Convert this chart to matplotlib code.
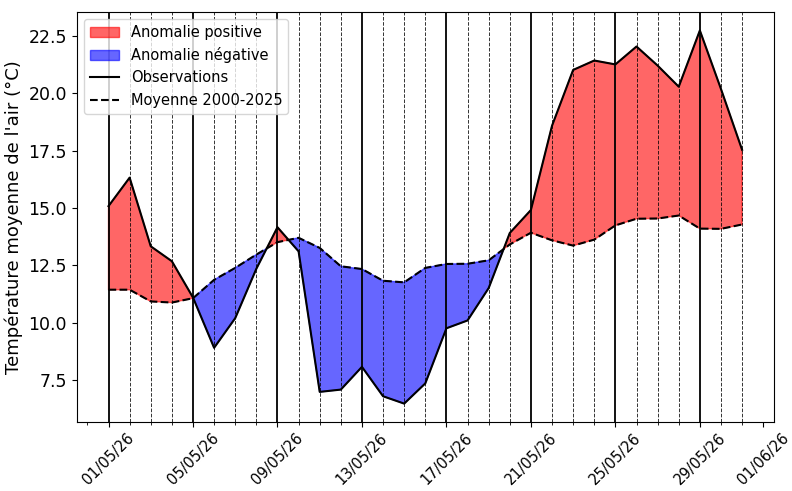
import numpy as np
import pandas as pd
import matplotlib
matplotlib.use("Agg")
import matplotlib.pyplot as plt
import matplotlib.dates as mdates
from matplotlib.ticker import MultipleLocator

dates = pd.date_range("2026-05-01", "2026-05-31", freq="D")

observations = [15.08, 16.32, 13.33, 12.68, 11.10, 8.91, 10.20, 12.35, 14.16, 13.11,
                6.99, 7.09, 8.08, 6.80, 6.48, 7.36, 9.76, 10.10, 11.51, 13.91,
                14.91, 18.58, 21.01, 21.42, 21.25, 22.03, 21.20, 20.28, 22.73, 20.18,
                17.53]

moyenne = [11.44, 11.44, 10.93, 10.88, 11.07, 11.87, 12.39, 12.97, 13.51, 13.70,
           13.26, 12.46, 12.34, 11.83, 11.76, 12.39, 12.56, 12.57, 12.72, 13.41,
           13.92, 13.59, 13.36, 13.62, 14.24, 14.53, 14.54, 14.67, 14.10, 14.09,
           14.28]


def main():
    obs = np.array(observations)
    moy = np.array(moyenne)

    fig, ax = plt.subplots(figsize=(7.92, 4.91), dpi=100)
    fig.subplots_adjust(left=0.097, right=0.977, top=0.976, bottom=0.14)

    ax.fill_between(dates, obs, moy, where=obs >= moy, interpolate=True,
                    color="red", alpha=0.6, label="Anomalie positive")
    ax.fill_between(dates, obs, moy, where=obs < moy, interpolate=True,
                    color="blue", alpha=0.6, label="Anomalie négative")
    ax.plot(dates, obs, color="black", linewidth=1.5, label="Observations")
    ax.plot(dates, moy, color="black", linestyle="--", linewidth=1.5,
            label="Moyenne 2000-2025")

    # vertical lines: solid every 4 days, dashed otherwise
    for i, d in enumerate(dates):
        if i % 4 == 0:
            ax.axvline(d, color="black", linewidth=1.3)
        else:
            ax.axvline(d, color="black", linestyle="--", linewidth=0.7, alpha=0.8)

    ax.xaxis.set_major_locator(mdates.DayLocator(bymonthday=[1, 5, 9, 13, 17, 21, 25, 29]))
    ax.xaxis.set_minor_locator(mdates.DayLocator())
    ax.xaxis.set_major_formatter(mdates.DateFormatter("%d/%m/%y"))
    ax.yaxis.set_major_locator(MultipleLocator(2.5))
    plt.setp(ax.get_xticklabels(), rotation=45)
    ax.tick_params(axis="y", labelsize=12.5)
    ax.tick_params(axis="x", labelsize=10.5, pad=2.5)

    ax.set_ylabel("Température moyenne de l'air (°C)", fontsize=13)
    ax.legend(loc="upper left", fontsize=10.5)

    fig.savefig("out.png")


if __name__ == '__main__':
    main()
